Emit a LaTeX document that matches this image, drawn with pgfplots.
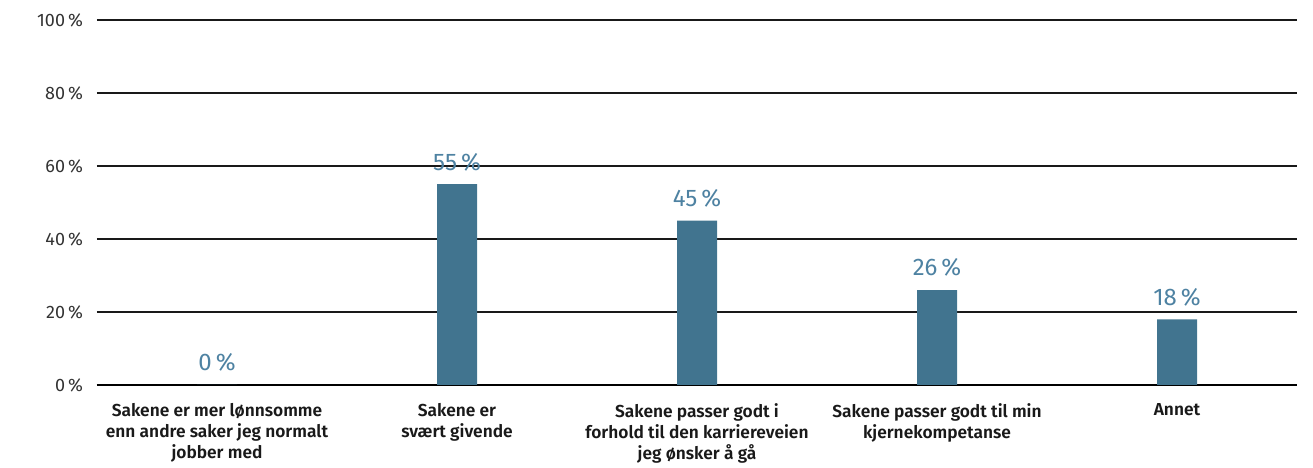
\documentclass[border=0pt]{standalone}
\usepackage{fontspec}
\setmainfont{Fira Sans}[BoldFont={Fira Sans SemiBold}]
\usepackage{pgfplots}
\pgfplotsset{compat=1.18}
\definecolor{barblue}{HTML}{41748F}
\definecolor{labblue}{HTML}{4E82A2}
\definecolor{ticktext}{HTML}{333333}
\begin{document}
\begin{tikzpicture}
\begin{axis}[
  at={(0,0)}, anchor=south west,
  scale only axis, width=900pt, height=273.75pt,
  xmin=-0.5, xmax=4.5, ymin=0, ymax=100,
  ybar, bar width=30pt,
  separate axis lines,
  axis x line*=bottom, axis y line*=left,
  y axis line style={draw=none},
  x axis line style={line width=2.2pt, -},
  xtick style={draw=none}, ytick style={draw=none},
  ytick={0,20,40,60,80,100},
  ymajorgrids, grid style={black!90, line width=0.8pt},
  /pgf/number format/assume math mode=true,
  yticklabel={\pgfmathprintnumber{\tick}\,\%},
  yticklabel style={font=\fontsize{13.5}{15}\selectfont, color=ticktext, xshift=-7pt},
  xtick={0,1,2,3,4},
  xticklabels={
    {Sakene er mer lønnsomme\\enn andre saker jeg normalt\\jobber med},
    {Sakene er\\svært givende},
    {Sakene passer godt i\\forhold til den karriereveien\\jeg ønsker å gå},
    {Sakene passer godt til min\\kjernekompetanse},
    {Annet}},
  xticklabel style={font=\fontsize{13}{15.75}\selectfont\bfseries, align=center, color=black!90, yshift=-6pt},
  nodes near coords={\pgfmathprintnumber{\pgfplotspointmeta}\,\%},
  every node near coord/.append style={font=\fontsize{18}{20}\selectfont, color=labblue, yshift=6.5pt},
]
\addplot[fill=barblue, draw=none] coordinates {(0,0) (1,55) (2,45) (3,26) (4,18)};
\end{axis}
\path[use as bounding box] (-72.75pt,-60.75pt) rectangle (912pt,288.75pt);
\end{tikzpicture}
\end{document}
